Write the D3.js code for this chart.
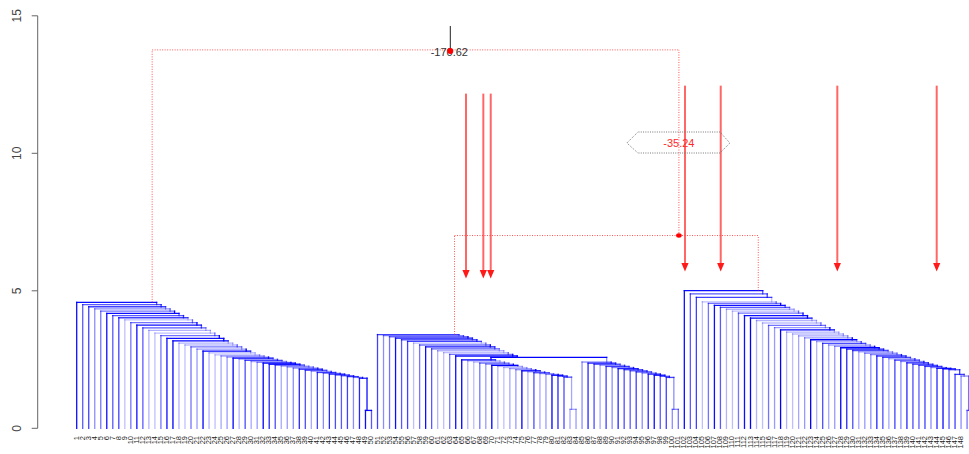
<!DOCTYPE html>
<html>
<head>
<meta charset="utf-8">
<script src="https://cdn.jsdelivr.net/npm/d3@7"></script>
<style>
  body { margin: 0; background: #fff; }
  svg { display: block; font-family: "Liberation Sans", Arial, sans-serif; }
</style>
</head>
<body>
<svg id="chart" width="969" height="454"></svg>
<script>
// ---- data -------------------------------------------------------------
const yTicks = [0, 5, 10, 15];
const leafCount = 150;
const leafLabels = d3.range(1, leafCount + 1).map(String);

// Cluster A (leaves 0..49): successive chain merge heights, last = final pair
const heightsA = [4.58, 4.50, 4.42, 4.34, 4.26, 4.18, 4.10, 4.02, 3.94, 3.84,
  3.75, 3.65, 3.56, 3.46, 3.37, 3.27, 3.18, 3.10, 3.03, 2.96,
  2.88, 2.81, 2.74, 2.67, 2.63, 2.59, 2.55, 2.51, 2.47, 2.43,
  2.40, 2.37, 2.33, 2.30, 2.26, 2.23, 2.19, 2.15, 2.11, 2.07,
  2.03, 2.00, 1.97, 1.94, 1.91, 1.88, 1.85, 1.82, 0.65];

// Cluster B: outer chain (leaves 50..63) onto the join of two sub-chains
const heightsBouter = [3.41, 3.37, 3.33, 3.28, 3.22, 3.16, 3.10, 3.03, 2.96, 2.89,
  2.82, 2.75, 2.69, 2.63];
const heightBjoin = 2.58;
// sub-chain B1 (leaves 64..83)
const heightsB1 = [2.49, 2.45, 2.41, 2.37, 2.33, 2.29, 2.25, 2.21, 2.17, 2.13,
  2.09, 2.05, 2.02, 1.99, 1.96, 1.93, 1.90, 1.86, 0.69];
// sub-chain B2 (leaves 84..100)
const heightsB2 = [2.41, 2.37, 2.33, 2.29, 2.25, 2.21, 2.17, 2.13, 2.09, 2.05,
  2.01, 1.97, 1.93, 1.89, 1.85, 0.69];

// Cluster C (leaves 101..149)
const heightsC = [5.01, 4.89, 4.76, 4.60, 4.54, 4.47, 4.40, 4.33, 4.26, 4.19,
  4.10, 4.01, 3.92, 3.83, 3.74, 3.66, 3.58, 3.50, 3.43, 3.36,
  3.29, 3.22, 3.15, 3.09, 3.03, 2.98, 2.93, 2.88, 2.83, 2.78,
  2.73, 2.68, 2.63, 2.58, 2.53, 2.48, 2.43, 2.38, 2.33, 2.29,
  2.25, 2.21, 2.18, 2.16, 2.13, 1.96, 1.90, 0.65];

// Upper merges (height, anchor in leaf units) and their scores
const mergeBC = { height: 7.01, at: 100.1, score: "-35.24" };
const mergeRoot = { height: 13.76, at: 62.1, score: "-170.62", stemTop: 14.63 };

// Marked leaves (arrows), in leaf units, with arrow top / tip heights
const arrowAt = [64.71, 67.59, 68.82, 101.11, 107.05, 126.43, 142.95];
const arrowTop = [12.17, 12.17, 12.17, 12.46, 12.46, 12.46, 12.46];
const arrowTip = [5.45, 5.45, 5.45, 5.70, 5.70, 5.70, 5.70];

// ---- tree construction --------------------------------------------------
const anchorFrac = 0.256;
const leaf = i => ({ leaf: i, lo: i, hi: i, height: 0 });
const join = (a, b, h) => ({ left: a, right: b, height: h, lo: Math.min(a.lo, b.lo), hi: Math.max(a.hi, b.hi) });
const anchor = n => n.leaf != null ? n.leaf : n.lo + anchorFrac * (n.hi - n.lo);
function chain(first, heights, tail) {
  let node = tail;
  for (let k = heights.length - 1; k >= 0; k--) node = join(leaf(first + k), node, heights[k]);
  return node;
}
function chainWithPair(first, heights) {
  const n = heights.length;           // n merges over n+1 leaves
  const pair = join(leaf(first + n - 1), leaf(first + n), heights[n - 1]);
  return chain(first, heights.slice(0, n - 1), pair);
}
const treeA = chainWithPair(0, heightsA);
const treeB1 = chainWithPair(64, heightsB1);
const treeB2 = chainWithPair(84, heightsB2);
const treeB = chain(50, heightsBouter, join(treeB1, treeB2, heightBjoin));
const treeC = chainWithPair(101, heightsC);

// ---- scales -------------------------------------------------------------
const W = 969, H = 454;
const svg = d3.select("#chart");
const x = d3.scaleLinear().domain([0, leafCount - 1]).range([76.7, 973.1]);
const y = d3.scaleLinear().domain([0, 15]).range([428.3, 15.8]);

svg.append("clipPath").attr("id", "clip").append("rect")
  .attr("x", 0).attr("y", 0).attr("width", W).attr("height", H);

// shade per leaf (line opacity)
const shades = [0.95, 0.4, 0.75, 0.3, 0.85, 0.55, 0.35, 0.65, 1.0, 0.45, 0.25, 0.7];
const shade = i => shades[(i * 7 + (i >> 2)) % shades.length];

// ---- collect dendrogram segments -----------------------------------------
const segs = [];
function walk(n) {
  if (n.leaf != null) return;
  const la = anchor(n.left), ra = anchor(n.right);
  segs.push({ x1: la, x2: ra, h1: n.height, h2: n.height, c: n.left.lo });
  segs.push({ x1: la, x2: la, h1: n.left.height, h2: n.height, c: n.left.lo });
  segs.push({ x1: ra, x2: ra, h1: n.right.height, h2: n.height, c: n.right.lo });
  walk(n.left); walk(n.right);
}
[treeA, treeB, treeC].forEach(walk);

svg.append("g").attr("clip-path", "url(#clip)")
  .selectAll("line").data(segs).join("line")
  .attr("x1", d => x(d.x1)).attr("x2", d => x(d.x2))
  .attr("y1", d => y(d.h1)).attr("y2", d => y(d.h2))
  .attr("stroke", "#0000ff")
  .attr("stroke-opacity", d => shade(d.c))
  .attr("stroke-width", 1.3)
  .attr("stroke-linecap", "square");

// ---- upper merges (dotted red) -------------------------------------------
const aA = anchor(treeA), aB = anchor(treeB), aC = anchor(treeC);
const upper = [
  { x1: aA, x2: aA, h1: treeA.height, h2: mergeRoot.height },
  { x1: aA, x2: mergeBC.at, h1: mergeRoot.height, h2: mergeRoot.height },
  { x1: mergeBC.at, x2: mergeBC.at, h1: mergeBC.height, h2: mergeRoot.height },
  { x1: aB, x2: aC, h1: mergeBC.height, h2: mergeBC.height },
  { x1: aB, x2: aB, h1: treeB.height, h2: mergeBC.height },
  { x1: aC, x2: aC, h1: treeC.height, h2: mergeBC.height }
];
svg.append("g").selectAll("line").data(upper).join("line")
  .attr("x1", d => x(d.x1)).attr("x2", d => x(d.x2))
  .attr("y1", d => y(d.h1)).attr("y2", d => y(d.h2))
  .attr("stroke", "#ff2020").attr("stroke-opacity", 0.75)
  .attr("stroke-width", 1).attr("stroke-dasharray", "1,1.5");

// ---- arrows ---------------------------------------------------------------
const arrows = arrowAt.map((a, i) => ({ a, top: arrowTop[i], tip: arrowTip[i] }));
const gArr = svg.append("g");
gArr.selectAll("line").data(arrows).join("line")
  .attr("x1", d => x(d.a)).attr("x2", d => x(d.a))
  .attr("y1", d => y(d.top)).attr("y2", d => y(d.tip) - 6)
  .attr("stroke", "#ff4040").attr("stroke-opacity", 0.8).attr("stroke-width", 2);
gArr.selectAll("path").data(arrows).join("path")
  .attr("d", d => {
    const cx = x(d.a), ty = y(d.tip);
    return `M${cx - 3.6},${ty - 8.5}L${cx + 3.6},${ty - 8.5}L${cx},${ty}Z`;
  })
  .attr("fill", "#ff1a1a");

// ---- root annotation ------------------------------------------------------
svg.append("line")
  .attr("x1", x(mergeRoot.at)).attr("x2", x(mergeRoot.at))
  .attr("y1", y(mergeRoot.stemTop)).attr("y2", y(mergeRoot.height))
  .attr("stroke", "#222").attr("stroke-width", 1);
svg.append("text")
  .attr("x", x(mergeRoot.at) - 1).attr("y", y(mergeRoot.height) + 6)
  .attr("text-anchor", "middle").attr("font-size", 11).attr("fill", "#333")
  .text(mergeRoot.score);
svg.append("circle")
  .attr("cx", x(mergeRoot.at)).attr("cy", y(mergeRoot.height) + 1.2).attr("r", 3)
  .attr("fill", "#ff0000");

// ---- BC annotation (score box) --------------------------------------------
const bx = x(mergeBC.at), by = 143;
svg.append("path")
  .attr("d", `M${bx - 52},${by}L${bx - 41},${by - 11}L${bx + 41},${by - 11}L${bx + 51},${by}L${bx + 41},${by + 10}L${bx - 41},${by + 10}Z`)
  .attr("fill", "none").attr("stroke", "#777").attr("stroke-width", 1)
  .attr("stroke-dasharray", "1,1.3");
svg.append("text")
  .attr("x", bx).attr("y", by + 4)
  .attr("text-anchor", "middle").attr("font-size", 11).attr("fill", "#ff2a2a")
  .text(mergeBC.score);
svg.append("ellipse")
  .attr("cx", x(mergeBC.at)).attr("cy", y(mergeBC.height)).attr("rx", 2.8).attr("ry", 2.2)
  .attr("fill", "#ff0000");

// ---- leaf labels (only leaves inside the plotting window) -------------------
const visibleLabels = leafLabels.map((t, i) => ({ t, i })).filter(d => x(d.i) + 2 <= W);
svg.append("g")
  .selectAll("text").data(visibleLabels).join("text")
  .attr("transform", d => `translate(${x(d.i) + 2},436) rotate(-90)`)
  .attr("text-anchor", "end").attr("font-size", 7.5).attr("fill", "#222")
  .text(d => d.t);

// ---- y axis -------------------------------------------------------------------
const axisX = 37.7;
const gAxis = svg.append("g");
gAxis.append("line").attr("x1", axisX).attr("x2", axisX)
  .attr("y1", y(15)).attr("y2", y(0)).attr("stroke", "#666").attr("stroke-width", 1);
gAxis.selectAll(".tick").data(yTicks).join("line")
  .attr("x1", axisX - 6).attr("x2", axisX)
  .attr("y1", d => y(d)).attr("y2", d => y(d))
  .attr("stroke", "#666").attr("stroke-width", 1);
gAxis.selectAll("text").data(yTicks).join("text")
  .attr("transform", d => `translate(21,${y(d)}) rotate(-90)`)
  .attr("text-anchor", "middle").attr("font-size", 12).attr("fill", "#444")
  .text(d => d);
</script>
</body>
</html>
